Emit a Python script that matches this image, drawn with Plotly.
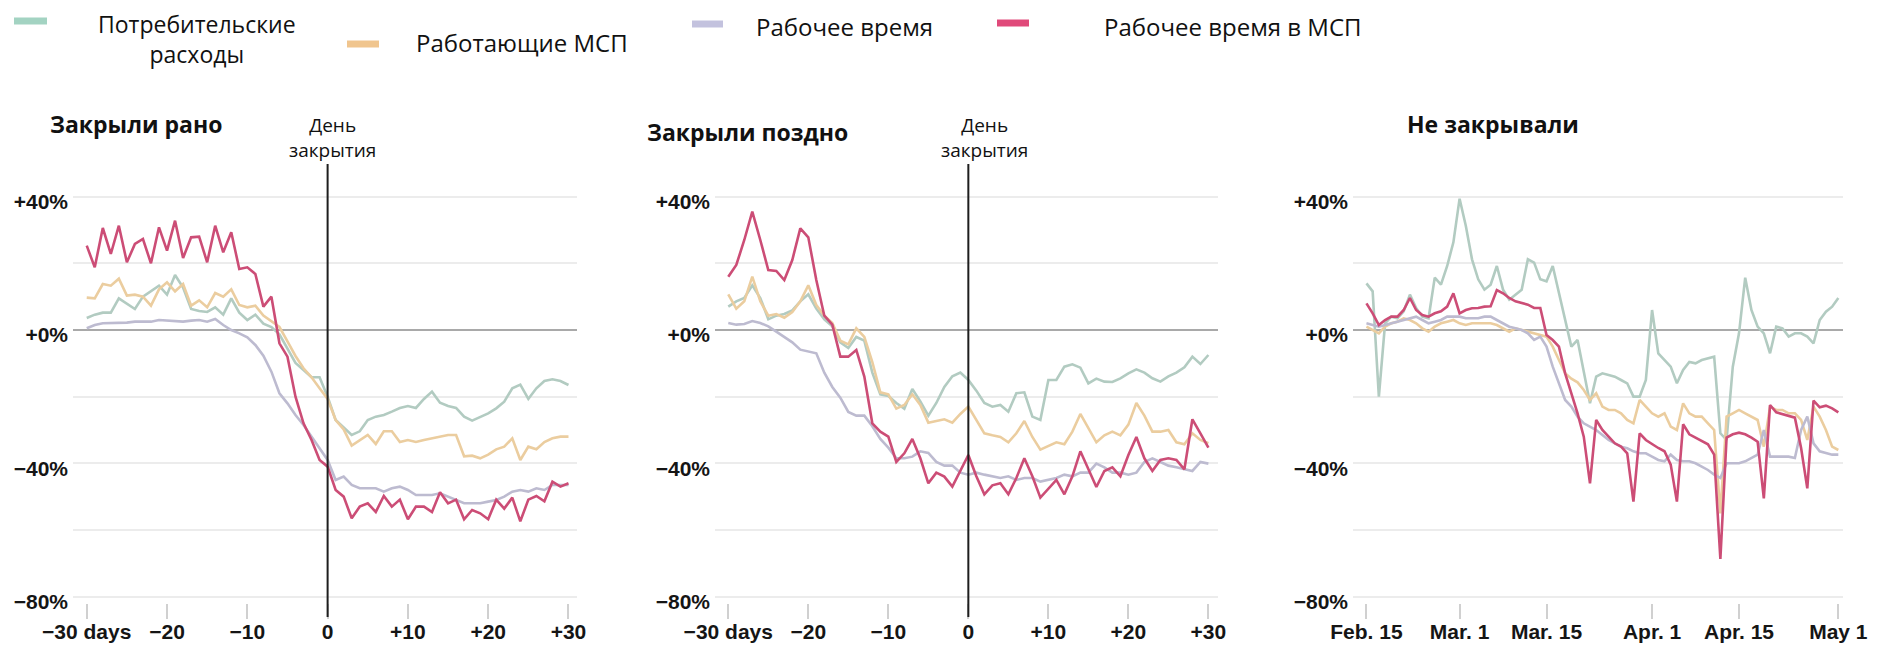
import plotly.graph_objects as go
import pandas as pd

W, H = 1883, 651

# ---------------- data ----------------
series_names = ["Потребительские расходы", "Работающие МСП", "Рабочее время", "Рабочее время в МСП"]
panel_titles = ["Закрыли рано", "Закрыли поздно", "Не закрывали"]
closure_label = "День<br>закрытия"

days = list(range(-30, 31))
dates = list(pd.date_range("2020-02-15", "2020-05-01", freq="D"))

day_tickvals = [-30, -20, -10, 0, 10, 20, 30]
day_ticktext = ["−30 days", "−20", "−10", "0", "+10", "+20", "+30"]
date_tickvals = ["2020-02-15", "2020-03-01", "2020-03-15", "2020-04-01", "2020-04-15", "2020-05-01"]
date_ticktext = ["Feb. 15", "Mar. 1", "Mar. 15", "Apr. 1", "Apr. 15", "May 1"]
y_tickvals = [-80, -60, -40, -20, 0, 20, 40]
y_ticktext = ["−80%", "", "−40%", "", "+0%", "", "+40%"]

# Closed early (days -30..+30)
early_spending = [3.6, 4.6, 5.2, 5.2, 9.5, 7.9, 6.3, 10, 11.6, 13.3, 10.6, 16.5, 12.7, 6.3, 5.7,
                  5.4, 6.8, 4.6, 9.5, 5.2, 3, 4.6, 1.9, 0.9, -1.3, -5.6, -9.9, -12, -14.2, -14.2,
                  -20, -27, -29.3, -31.5, -30.4, -27, -26, -25.5, -24.5, -23.4, -22.8, -23.4, -20.7,
                  -18.5, -21.8, -22.8, -23.4, -26, -27.2, -26, -25, -23.5, -21.5, -17.5, -16.4,
                  -20.7, -17.5, -15.3, -14.8, -15.3, -16.5]
early_smb_open = [9.7, 9.5, 13.8, 13.3, 15.4, 10.3, 10.6, 10, 7.3, 12.2, 14.3, 11.6, 13.8, 7.3, 8.9,
                  6.8, 11.1, 10, 12.2, 7.5, 6.8, 7.3, 4.3, 2.5, 0.9, -3.4, -7.8, -11.5, -14.2, -17.5,
                  -20.7, -27, -29.8, -34.7, -33, -31.5, -34.2, -30.4, -30.4, -33.6, -33, -33.6, -33,
                  -32.5, -32, -31.5, -31.5, -37.9, -37.7, -38.5, -37.4, -35.8, -35, -32.5, -39, -35,
                  -35.8, -33.6, -32.5, -32, -32]
early_hours = [0.5, 1.5, 2, 2, 2, 2.2, 2.5, 2.5, 2.5, 3, 2.8, 2.8, 2.5, 2.8, 3, 2.5, 3.3, 1.5, 0, -1,
               -2.2, -4.5, -7.7, -12.5, -19, -22, -25.5, -28.5, -32, -35.5,
               -39, -45, -44, -46.5, -47.5, -47.5, -47.5, -48.5, -47.5, -47, -48, -49.5, -49.5,
               -49.5, -49, -50, -51, -52, -52, -52, -51.5, -51, -50, -48.5, -48, -48.5, -47.5,
               -48, -46.5, -46.5, -46.5]
early_smb_hours = [25.3, 18.8, 30.6, 22.8, 31.3, 20.3, 25.8, 27.3, 20.0, 30.8, 23.8, 32.8, 21.6, 27.8,
                   28.0, 20.3, 31.3, 23.3, 29.3, 18.3, 18.8, 16.8, 7.0, 10.0, -4.0, -8.0, -20.0,
                   -28.0, -33.0, -39.0,
                   -41, -48, -50, -56.5, -53, -52, -54.6, -49.8, -53, -50.9, -56.8, -53, -53, -54.6,
                   -48.7, -52, -50.9, -56.8, -54, -55, -56.8, -50.9, -53.6, -50.3, -57.4, -50.9,
                   -49.8, -51.4, -45.5, -47, -46]

# Closed late (days -30..+30)
late_spending = [7, 8.6, 9.6, 13.4, 9.6, 3.2, 4.3, 4.8, 5.9, 8.6, 10.7, 6.4, 3.2, 1.1, -3.7, -5.4,
                 -2.1, -3.2, -12.8, -19.3, -19.8, -21.9, -23.6, -17.7, -21.4, -25.7, -21.9, -17.1,
                 -13.9, -12.8, -15, -18.2, -21.9, -23, -22.5, -24.5, -19, -18.7, -26, -27, -15, -15,
                 -11, -10.3, -11.3, -16, -14.6, -15.5, -15.6, -14.5, -13, -11.8, -12.8, -14.5,
                 -15.5, -13.9, -12.8, -11.2, -8, -10.2, -7.5]
late_smb_open = [10.7, 6.4, 8.6, 16, 8.6, 4.3, 4.8, 3.7, 5.4, 8.6, 13.4, 7.5, 4.3, 2.1, -3.2, -4.3,
                 0.5, -2.1, -9.6, -18.7, -19.3, -23.6, -22.5, -19.3, -22.5, -27.8, -27.3, -26.8,
                 -27.8, -25.2, -23, -26.8, -31, -31.6, -32.1, -33.7, -31, -27.3, -32.1, -35.9,
                 -34.8, -33.7, -34.3, -30.5, -25.2, -29.4, -33.7, -31.6, -30.5, -31.6, -28.4,
                 -21.9, -25.7, -30.5, -30.5, -30, -33.7, -34.3, -31, -33, -34]
late_hours = [2.1, 1.6, 1.8, 2.7, 2.1, 1.1, -0.5, -2.1, -3.7, -5.9, -6.4, -7, -12.8, -17.1, -20.3,
              -24.6, -25.7, -25.7, -28.9, -32.7, -35.3, -38.5, -38.5, -38, -36.4, -36.9, -39.6,
              -40.7, -40.7, -42.8, -43.4, -42.8, -43.4, -43.9, -44.4, -43.9, -45, -44.4, -44.4,
              -45.5, -45, -44.4, -43.4, -43.9, -42.8, -42.8, -40.1, -41.2, -42.8, -42.8, -43.4,
              -42.8, -39.6, -38.5, -39.6, -40.7, -41.2, -41.8, -42.3, -39.6, -40.1]
late_smb_hours = [16, 19.5, 27, 35.5, 27, 18, 17.7, 15, 21, 30.5, 27.8, 15, 4.3, 1.6, -8, -8, -6,
                  -14, -28, -30.5, -32, -39.6, -37, -32.7, -38.5, -46, -42.8, -44, -47, -42, -37.5,
                  -43.9, -49.3, -46.6, -46, -49.3, -44.4, -38.5, -43.9, -50.3, -47.6, -45, -49.3,
                  -43.9, -36.4, -41.8, -47.1, -42.3, -41.2, -43.9, -37.5, -32.1, -38.5, -42.3, -39,
                  -38.5, -39, -41.8, -26.8, -31, -35.3]

# Never closed (Feb 15 .. May 1, 2020)
never_spending = [14, 11.6, -20, 2, 4, 3.5, 5.6, 10.6, 6.6, 4, 3.5, 15.7, 13.6, 19.2, 26.3, 39.4,
                  31.3, 21.2, 15.2, 12.1, 13.6, 19.2, 12.1, 9.1, 10.6, 12.1, 21.2, 20.2, 15.2, 14.6,
                  19.2, 11.1, 3, -5, -3, -12, -22, -14, -13, -13.5, -14, -15, -16, -20, -20, -15, 6,
                  -7, -9, -11, -16, -12, -9.6, -10, -9, -8.5, -8, -31, -33, -11, -1, 15.7, 6, 1, -1,
                  -7, 1, 0.5, -2, -1, -1, -2, -4, 3, 5.5, 7, 9.6]
never_smb_open = [1, 0, -1, 1, 2, 2.5, 3.5, 3, 2, 0.5, -0.5, 1, 2, 2.5, 3, 2, 1.5, 2, 2, 2,
                  2, 1.5, 0.5, -0.5, 0.5, 0, -0.5, -1, -1.5, -2, -5, -9, -13, -14.6, -15.7, -18,
                  -21, -19, -23, -24, -24, -25, -27, -28, -21, -23, -25, -26, -25, -29,
                  -30, -22, -25, -26, -26, -28, -30, -55, -26, -25, -24, -25, -26, -27, -35, -23,
                  -24, -24, -25, -25, -27, -33, -23, -26, -30, -35, -36]
never_hours = [2, 1.5, 1, 1.5, 2, 2.5, 3, 3.5, 4, 3, 2, 2.5, 3, 4, 4, 4, 3.5, 3.5, 3.5, 4,
               4, 3, 2, 1, 0.5, 0, -1, -3, -2, -5, -11, -16, -21, -23, -26, -28, -29, -30, -31.5,
               -33, -34, -35, -35.5, -36.4, -37, -37, -38, -39, -39.4, -37.4, -39, -39.4, -39.4,
               -40, -41, -42, -43.4, -44.4, -40, -40, -40, -39.4, -38.5, -37.4, -30, -38, -38,
               -38, -38, -38.4, -30, -26, -34, -36.4, -37, -37.4, -37.4]
never_smb_hours = [8, 5, 1.5, 3, 4, 4, 6, 9.6, 6, 4.5, 4, 5, 5.6, 7, 11, 5, 6, 6.5, 6.6, 7,
                   7.1, 12, 11, 9.6, 8.6, 8.1, 7.6, 6.6, 6.6, -1.5, -3, -5, -13, -19, -25, -32,
                   -46, -27, -30, -32, -34, -35, -37, -51.5, -31, -33, -34.3, -35.4, -36.4, -40.4,
                   -51.5, -28.3, -31.3, -32.3, -33.3, -34.3, -37.4, -68.7, -32.3, -31.3, -30.8,
                   -31.3, -32.3, -33.5, -50.5, -22.5, -24.7, -25.3, -25.8, -26.3, -35.4, -47.5,
                   -21.2, -23.2, -22.7, -23.5, -24.7]

# ---------------- styling ----------------
line_colors = ["#b2cbc1", "#ebcd9f", "#bdbbd0", "#cc4d76"]
legend_colors = ["#a3d3c2", "#f0c58e", "#c3c2de", "#e04a7a"]


def px(x):
    return x / W


def py(y):
    return 1 - y / H


fig = go.Figure()

panels = [
    ("x", "y", days, [early_spending, early_smb_open, early_hours, early_smb_hours]),
    ("x2", "y2", days, [late_spending, late_smb_open, late_hours, late_smb_hours]),
    ("x3", "y3", dates, [never_spending, never_smb_open, never_hours, never_smb_hours]),
]
for xa, ya, xs, series in panels:
    for name, col, vals in zip(series_names, line_colors, series):
        fig.add_trace(go.Scatter(x=xs, y=vals, mode="lines", name=name, xaxis=xa, yaxis=ya,
                                 line=dict(color=col, width=2.6), showlegend=False,
                                 hoverinfo="skip"))

tick_font = dict(family="Liberation Sans, Arial, sans-serif", size=21, color="#151515", weight="bold")
y_dom = [py(603.3), py(190)]

common_x = dict(showgrid=False, zeroline=False, showline=False, ticks="outside", ticklen=15,
                tickwidth=1.5, tickcolor="#d0d0d0", tickfont=tick_font, ticklabelstandoff=-6,
                automargin=False)
common_y = dict(range=[-82, 42], domain=y_dom, tickmode="array", tickvals=y_tickvals,
                ticktext=y_ticktext, showgrid=True, gridcolor="#ececec", gridwidth=1.5,
                zeroline=True, zerolinecolor="#a9a9a9", zerolinewidth=2, showline=False,
                ticks="", tickfont=tick_font, ticklabelstandoff=4, ticklabelshift=5,
                automargin=False)

fig.update_layout(
    width=W, height=H, margin=dict(l=0, r=0, t=0, b=0, pad=0, autoexpand=False),
    paper_bgcolor="white", plot_bgcolor="white", showlegend=False,
    xaxis=dict(domain=[px(73), px(577)], range=[-31.71, 31.06], anchor="y", tickmode="array",
               tickvals=day_tickvals, ticktext=day_ticktext, **common_x),
    xaxis2=dict(domain=[px(715), px(1218)], range=[-31.66, 31.2], anchor="y2", tickmode="array",
                tickvals=day_tickvals, ticktext=day_ticktext, **common_x),
    xaxis3=dict(domain=[px(1353), px(1843)], range=["2020-02-12 20:00", "2020-05-01 18:00"],
                anchor="y3", type="date", tickmode="array", tickvals=date_tickvals,
                ticktext=date_ticktext, **common_x),
    yaxis=dict(anchor="x", **common_y),
    yaxis2=dict(anchor="x2", **common_y),
    yaxis3=dict(anchor="x3", **common_y),
)

shapes = []
# closure-day vertical lines
for xa in ["x", "x2"]:
    shapes.append(dict(type="line", xref=xa, yref="paper", x0=0, x1=0, y0=py(617), y1=py(164),
                       line=dict(color="#1e1e1e", width=2)))
# legend swatches
swatches = [(14, 47, 21), (347, 379, 44), (692, 723, 24), (997, 1029, 23)]
for (x0, x1, yy), col in zip(swatches, legend_colors):
    shapes.append(dict(type="line", xref="paper", yref="paper", x0=px(x0), x1=px(x1),
                       y0=py(yy), y1=py(yy), line=dict(color=col, width=7)))
fig.update_layout(shapes=shapes)

text_font = "Open Sans, Noto Sans, sans-serif"
ann = []
legend_pos = [(197, 39, "center", 23), (414, 43, "left", 24), (754, 26, "left", 24),
              (1102, 26, "left", 24)]
legend_texts = ["Потребительские<br>расходы", series_names[1], series_names[2], series_names[3]]
for (x, y, al, fs), t in zip(legend_pos, legend_texts):
    ann.append(dict(text=t, x=px(x), y=py(y), xref="paper", yref="paper", xanchor=al,
                    yanchor="middle", showarrow=False, align="center",
                    font=dict(family=text_font, size=fs, color="#111111")))
title_pos = [(48, 124), (645, 132), (1405, 124)]
for (x, y), t in zip(title_pos, panel_titles):
    ann.append(dict(text=t, x=px(x), y=py(y), xref="paper", yref="paper", xanchor="left",
                    yanchor="middle", showarrow=False,
                    font=dict(family=text_font, size=23, color="#111111", weight="bold")))
for x in [332, 984]:
    ann.append(dict(text=closure_label, x=px(x), y=py(138), xref="paper", yref="paper",
                    xanchor="center", yanchor="middle", showarrow=False, align="center",
                    font=dict(family=text_font, size=19, color="#111111")))
fig.update_layout(annotations=ann)

fig.write_html("out.html", config={"displayModeBar": False},
               post_script="document.body.style.margin='0';")
